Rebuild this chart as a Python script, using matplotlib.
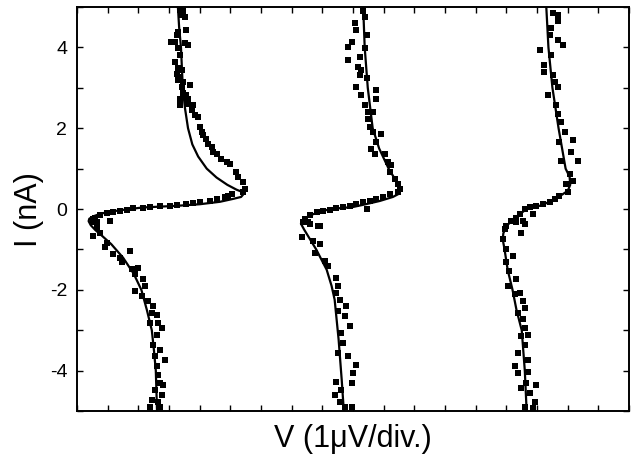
import numpy as np
import matplotlib
matplotlib.use('Agg')
import matplotlib.pyplot as plt
from matplotlib.ticker import MultipleLocator, NullFormatter

plt.rcParams['font.family'] = ['Liberation Sans', 'DejaVu Sans']
plt.rcParams['axes.unicode_minus'] = False

# measured points (V in divisions, I in nA), three traces offset along V
v1 = [3.36, 3.46, 3.41, 3.52, 3.55, 3.30, 3.25, 3.06, 3.19, 3.52, 3.63, 3.30, 3.36, 3.19,
      3.30, 3.41, 3.25, 3.36, 3.30, 3.46, 3.68, 3.41, 3.46, 3.57, 3.36, 3.63, 3.36, 3.63,
      3.79, 3.74, 3.84, 3.95, 4.01, 4.06, 4.11, 4.22, 4.28, 4.39, 4.44, 4.55, 4.71, 4.88,
      4.98, 5.20, 5.25, 5.42, 5.47, 5.40, 5.04, 4.93, 4.82, 4.55, 4.33, 4.01, 3.79, 3.57,
      3.25, 3.03, 2.70, 2.38, 2.16, 1.83, 1.62, 1.40, 1.18, 0.97, 0.75, 0.59, 0.53, 0.64,
      0.53, 0.64, 1.07, 0.53, 0.75, 0.97, 0.91, 1.18, 1.40, 1.73, 1.46, 1.78, 2.00, 1.89,
      2.16, 2.21, 1.89, 2.11, 2.32, 2.49, 2.43, 2.60, 2.38, 2.65, 2.76, 2.60, 2.49, 2.70,
      2.54, 2.87, 2.60, 2.65, 2.70, 2.81, 2.54, 2.76, 2.43, 2.65, 2.38, 2.70]
i1 = [4.93, 4.89, 4.80, 4.76, 4.43, 4.39, 4.31, 4.14, 4.14, 4.10, 4.06, 3.98, 3.81, 3.64,
      3.48, 3.44, 3.35, 3.27, 3.19, 3.15, 3.06, 3.02, 2.86, 2.82, 2.73, 2.73, 2.57, 2.61,
      2.57, 2.44, 2.32, 2.28, 2.03, 1.90, 1.82, 1.74, 1.61, 1.53, 1.41, 1.37, 1.24, 1.16,
      1.12, 0.91, 0.79, 0.66, 0.50, 0.41, 0.37, 0.33, 0.29, 0.25, 0.21, 0.17, 0.15, 0.12,
      0.10, 0.08, 0.07, 0.05, 0.03, 0.02, -0.02, -0.04, -0.07, -0.10, -0.15, -0.21, -0.25, -0.33,
      -0.33, -0.45, -0.29, -0.66, -0.58, -0.83, -0.95, -1.12, -1.20, -1.04, -1.32, -1.49, -1.45, -1.61,
      -1.74, -1.91, -2.03, -2.15, -2.28, -2.40, -2.57, -2.61, -2.82, -2.82, -2.94, -3.11, -3.35, -3.48,
      -3.64, -3.73, -3.89, -4.10, -4.31, -4.35, -4.47, -4.60, -4.72, -4.76, -4.89, -4.89]

v2 = [9.33, 9.38, 9.06, 9.11, 9.44, 8.95, 8.84, 9.38, 9.22, 8.84, 9.16, 9.27, 9.22, 9.44,
      9.11, 9.76, 9.76, 9.27, 9.38, 9.49, 9.65, 9.49, 9.54, 9.65, 9.92, 9.76, 9.60, 9.71,
      10.03, 10.14, 10.25, 10.20, 10.36, 10.47, 10.52, 10.47, 10.20, 9.98, 9.76, 9.54, 9.33,
      9.11, 8.89, 9.44, 8.67, 8.46, 8.24, 8.02, 7.81, 7.59, 7.43, 7.53, 7.86,
      7.37, 7.59, 7.92, 7.32, 7.70, 7.92, 7.75, 8.08, 8.19, 8.46, 8.51, 8.46, 8.57, 8.78,
      8.51, 8.73, 8.89, 8.62, 8.67, 8.51, 8.84, 9.11, 9.00, 8.95, 8.46, 8.62, 8.40, 8.57,
      8.95, 8.73]
i2 = [4.89, 4.76, 4.60, 4.43, 4.31, 4.14, 4.02, 3.98, 3.77, 3.69, 3.52, 3.44, 3.31, 3.23,
      3.02, 2.94, 2.73, 2.82, 2.57, 2.40, 2.40, 2.24, 2.03, 1.90, 1.86, 1.66, 1.49, 1.37,
      1.37, 1.16, 1.08, 0.91, 0.75, 0.62, 0.50, 0.41, 0.37, 0.29, 0.25, 0.21, 0.17,
      0.12, 0.08, 0.00, 0.04, 0.02, -0.02, -0.05, -0.08, -0.15, -0.25, -0.33, -0.41,
      -0.33, -0.37, -0.41, -0.70, -0.79, -0.87, -1.08, -1.28, -1.41, -1.70, -1.91, -2.07, -2.24, -2.40,
      -2.53, -2.65, -2.90, -3.06, -3.31, -3.56, -3.64, -3.85, -4.06, -4.31, -4.27, -4.47, -4.60, -4.76,
      -4.89, -4.89]

v3 = [15.51, 15.68, 15.68, 15.46, 15.41, 15.68, 15.84, 15.08, 15.46, 15.24, 15.24, 15.51,
      15.57, 15.68, 15.35, 15.63, 15.68, 15.79, 15.90, 16.17, 15.73, 16.11, 16.33, 15.79,
      16.06, 16.17, 15.95, 16.01, 15.73, 15.57, 15.41, 15.19, 14.97, 14.76, 14.59, 14.86,
      14.43, 14.32, 14.16, 14.00, 14.54,
      14.32, 14.59, 14.49, 13.94, 13.89, 14.00, 14.21, 14.00, 14.10, 14.32, 14.05, 14.27,
      14.43, 14.54, 14.59, 14.38, 14.54, 14.59, 14.49, 14.70, 14.59, 14.38, 14.70, 14.27,
      14.38, 14.70, 14.65, 14.97, 14.49, 14.76, 14.92, 14.59, 14.86]
i3 = [4.84, 4.80, 4.64, 4.47, 4.31, 4.18, 4.06, 3.93, 3.81, 3.56, 3.40, 3.31,
      3.15, 3.02, 2.82, 2.57, 2.36, 2.15, 1.90, 1.70, 1.66, 1.41, 1.20, 1.20,
      0.87, 0.70, 0.62, 0.41, 0.33, 0.25, 0.17, 0.12, 0.08, 0.04, 0.00, -0.12,
      -0.12, -0.21, -0.29, -0.41, -0.29,
      -0.33, -0.37, -0.58, -0.50, -0.75, -0.99, -1.16, -1.32, -1.53, -1.74, -1.91, -2.11,
      -2.07, -2.28, -2.44, -2.57, -2.73, -2.94, -3.15, -3.11, -3.35, -3.56, -3.73, -3.89,
      -4.06, -4.02, -4.31, -4.35, -4.43, -4.55, -4.76, -4.89, -4.93]

# fitted curves
fit_v1 = [3.29, 3.33, 3.39, 3.45, 3.52, 3.62, 3.76, 3.95, 4.23, 4.55, 4.90, 5.20, 5.40, 5.44,
          5.35, 5.08, 4.66, 4.01, 3.25, 2.16, 1.70, 1.03, 0.75, 0.53, 0.40, 0.38, 0.45, 0.60,
          0.80, 1.12, 1.50, 1.85, 2.10, 2.28, 2.44, 2.51, 2.57, 2.61]
fit_i1 = [5.0, 4.5, 4.0, 3.0, 2.5, 2.0, 1.6, 1.3, 1.0, 0.78, 0.60, 0.48, 0.42, 0.38,
          0.30, 0.25, 0.18, 0.12, 0.08, 0.04, 0.0, -0.07, -0.12, -0.18, -0.24, -0.30, -0.40, -0.52,
          -0.65, -0.87, -1.2, -1.6, -2.0, -2.5, -3.0, -3.5, -4.0, -5.0]

fit_v2 = [9.33, 9.38, 9.48, 9.64, 9.85, 10.16, 10.40, 10.52, 10.50, 10.30, 9.87, 9.30, 8.99,
          8.24, 7.60, 7.35, 7.30, 7.40, 7.60, 7.80, 8.14, 8.30, 8.40, 8.53, 8.63, 8.70]
fit_i2 = [5.0, 4.0, 3.0, 2.0, 1.5, 1.0, 0.7, 0.5, 0.38, 0.30, 0.20, 0.10, 0.05,
          0.0, -0.15, -0.27, -0.36, -0.5, -0.75, -1.0, -1.5, -1.9, -2.24, -3.23, -4.22, -5.0]

fit_v3 = [15.30, 15.37, 15.50, 15.70, 15.93, 16.06, 16.08, 16.00, 15.70, 15.18, 14.66, 14.30,
          14.00, 13.90, 13.88, 13.94, 14.04, 14.20, 14.33, 14.50, 14.60, 14.66]
fit_i3 = [5.0, 4.0, 3.0, 2.0, 1.0, 0.8, 0.6, 0.45, 0.30, 0.10, 0.0, -0.2,
          -0.42, -0.6, -0.75, -1.0, -1.5, -2.0, -2.5, -3.0, -4.0, -5.0]

fig = plt.figure(figsize=(6.31, 4.61), dpi=100)
ax = fig.add_axes([0.122, 0.108, 0.875, 0.877])

for v, i in [(v1, i1), (v2, i2), (v3, i3)]:
    ax.plot(v, i, 's', color='black', ms=4.0, mew=0, zorder=2)
for v, i in [(fit_v1, fit_i1), (fit_v2, fit_i2), (fit_v3, fit_i3)]:
    ax.plot(v, i, '-', color='black', lw=1.6, zorder=3)

ax.set_xlim(0, 18)
ax.set_ylim(-5, 5)
ax.xaxis.set_major_locator(MultipleLocator(1))
ax.xaxis.set_major_formatter(NullFormatter())
ax.yaxis.set_major_locator(MultipleLocator(2))
ax.yaxis.set_minor_locator(MultipleLocator(1))
ax.tick_params(which='both', direction='in', top=True, right=True, width=1.0, length=4)
ax.tick_params(axis='y', labelsize=14, pad=7)
for s in ax.spines.values():
    s.set_linewidth(1.4)

ax.set_xlabel('V (1μV/div.)', fontsize=22, labelpad=6)
ax.set_ylabel('I (nA)', fontsize=22, labelpad=4)

fig.savefig('out.png', dpi=100)
